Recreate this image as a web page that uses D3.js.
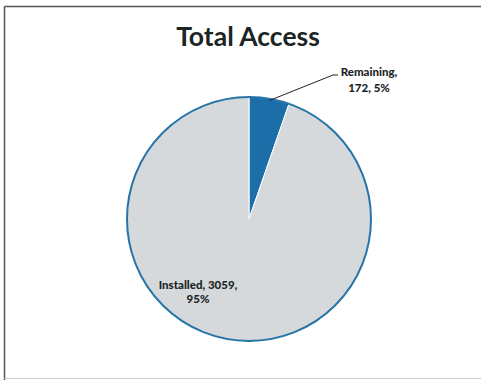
<!DOCTYPE html>
<html>
<head>
<meta charset="utf-8">
<script src="https://cdn.jsdelivr.net/npm/d3@7"></script>
<style>
  body { margin: 0; background: #fff; }
  svg { display: block; }
  text { font-family: Lato, "Open Sans", sans-serif; font-weight: 900; fill: #1c2424; }
</style>
</head>
<body>
<div id="chart"></div>
<script>
const categories = ["Remaining", "Installed"];
const values = [172, 3059];
const percents = ["5%", "95%"];

const width = 481;
const height = 380;
const cx = 249, cy = 219, radius = 122;

const svg = d3.select("#chart").append("svg")
    .attr("width", width)
    .attr("height", height);

// frame
svg.append("line").attr("x1", 4.5).attr("y1", 6.5).attr("x2", width).attr("y2", 6.5)
    .attr("stroke", "#555").attr("stroke-width", 1.5);
svg.append("line").attr("x1", 4.5).attr("y1", 6.5).attr("x2", 4.5).attr("y2", height)
    .attr("stroke", "#555").attr("stroke-width", 1.5);
svg.append("line").attr("x1", 4.5).attr("y1", 378.5).attr("x2", width).attr("y2", 378.5)
    .attr("stroke", "#ccc").attr("stroke-width", 1);

svg.append("text")
    .attr("x", 248).attr("y", 46)
    .attr("text-anchor", "middle")
    .style("font-size", "26.5px")
    .style("font-weight", "bold")
    .text("Total Access");

const data = categories.map((c, i) => ({ name: c, value: values[i], pct: percents[i] }));
const color = d3.scaleOrdinal().domain(categories).range(["#1b6ea8", "#d6d9dc"]);

const pie = d3.pie().sort(null).value(d => d.value);
const arc = d3.arc().innerRadius(0).outerRadius(radius);
const arcs = pie(data);

const g = svg.append("g").attr("transform", `translate(${cx},${cy})`);

g.selectAll("path.slice")
    .data(arcs)
    .join("path")
    .attr("class", "slice")
    .attr("d", arc)
    .attr("fill", d => color(d.data.name))
    .attr("stroke", "#fff")
    .attr("stroke-width", 1);

// outer rim
g.append("circle").attr("r", radius).attr("fill", "none")
    .attr("stroke", "#2674a8").attr("stroke-width", 2);

// Remaining label with leader line
const rem = arcs[0];
const midA = (rem.startAngle + rem.endAngle) / 2;
const p0 = [Math.sin(midA) * (radius - 2), -Math.cos(midA) * (radius - 2)];
g.append("polyline")
    .attr("points", [p0, [84, -144], [89, -144]].map(p => p.join(",")).join(" "))
    .attr("fill", "none").attr("stroke", "#222").attr("stroke-width", 1);

const remLabel = g.append("text").attr("text-anchor", "middle").style("font-size", "11.5px");
remLabel.append("tspan").attr("x", 120).attr("y", -143).text(`${rem.data.name},`);
remLabel.append("tspan").attr("x", 120).attr("y", -127).text(`${rem.data.value}, ${rem.data.pct}`);

// Installed label inside
const ins = arcs[1];
const insLabel = g.append("text").attr("text-anchor", "middle").style("font-size", "11.5px");
insLabel.append("tspan").attr("x", -51).attr("y", 70).text(`${ins.data.name}, ${ins.data.value},`);
insLabel.append("tspan").attr("x", -51).attr("y", 84).text(ins.data.pct);
</script>
</body>
</html>
